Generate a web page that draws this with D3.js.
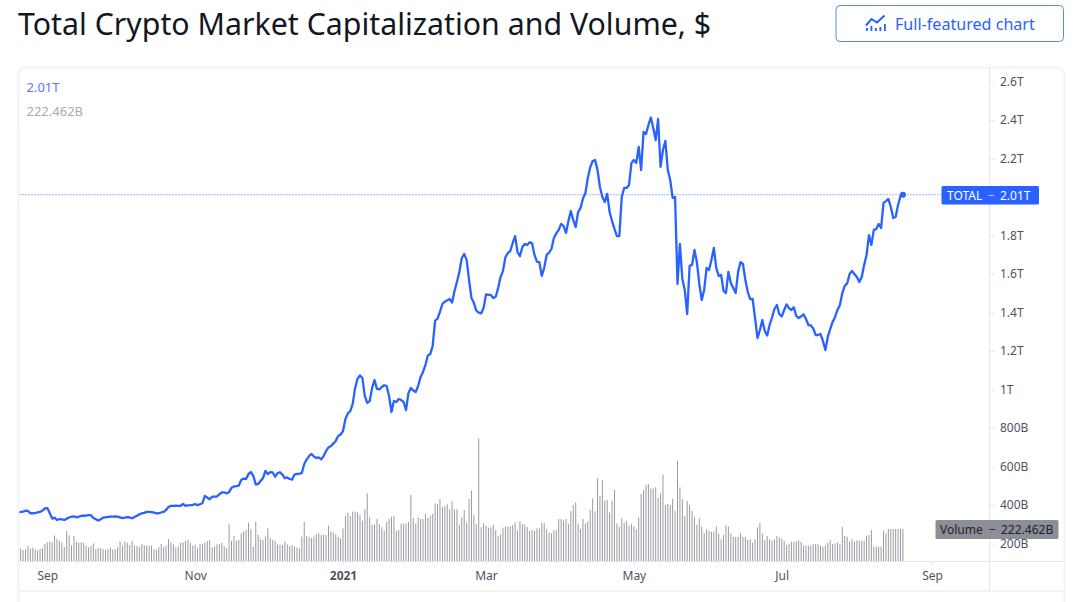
<!DOCTYPE html>
<html><head><meta charset="utf-8">
<script src="https://cdn.jsdelivr.net/npm/d3@7/dist/d3.min.js"></script>
<style>html,body{margin:0;padding:0;background:#fff;overflow:hidden}svg{display:block}text{font-family:"Noto Sans",sans-serif}</style>
</head><body><svg id="c" width="1080" height="602"></svg>
<script>
const startDate = "2020-08-20";
const chartTitle = "Total Crypto Market Capitalization and Volume, $";
const buttonLabel = "Full-featured chart";
const priceTicks = [200,400,600,800,1000,1200,1400,1600,1800,2200,2400,2600];
const timeTicks = [["2020-09-01","Sep"],["2020-11-01","Nov"],["2021-01-01","2021"],["2021-03-01","Mar"],["2021-05-01","May"],["2021-07-01","Jul"],["2021-09-01","Sep"]];
// market cap, billions of USD, one per day
const totalCap = [
359,362,364,368,367,355,355,356,359,362,369,380,382,356,327,332,320,325,323,320,
327,333,337,339,334,337,341,342,343,345,345,330,324,317,323,332,334,336,337,338,
339,338,334,330,332,335,333,329,336,342,350,354,357,362,362,361,359,354,355,359,
362,372,388,393,393,394,393,394,403,394,396,397,399,403,397,402,407,445,437,428,
441,441,442,454,463,464,458,465,487,494,496,499,528,535,533,559,569,549,505,507,
523,538,575,559,569,567,545,564,568,556,537,541,533,530,556,559,561,564,611,634,
652,663,650,642,645,635,652,678,697,704,717,730,756,764,782,845,874,886,923,1006,
1054,1071,1058,964,928,938,1006,1047,1001,999,1011,1020,1016,964,881,938,933,949,943,933,
891,980,1006,993,985,1016,1063,1089,1125,1175,1182,1224,1356,1366,1401,1442,1454,1461,1468,1450,
1510,1556,1608,1681,1702,1671,1567,1473,1447,1408,1397,1393,1421,1492,1489,1489,1473,1480,1525,1582,
1614,1685,1707,1717,1759,1795,1712,1691,1738,1754,1749,1763,1757,1697,1662,1660,1588,1629,1697,1709,
1728,1785,1809,1827,1858,1847,1811,1873,1925,1878,1842,1920,1941,1990,2019,2097,2153,2185,2190,2138,
2050,1998,1972,2014,1920,1873,1832,1795,1795,1998,2045,2045,2060,2175,2190,2175,2258,2138,2336,2325,
2372,2411,2356,2294,2403,2154,2242,2289,2138,2086,1993,1998,1546,1754,1572,1515,1390,1640,1645,1723,
1660,1546,1463,1515,1629,1619,1671,1733,1629,1588,1593,1510,1499,1609,1551,1525,1499,1609,1660,1650,
1567,1504,1468,1468,1369,1265,1307,1359,1302,1278,1333,1372,1416,1437,1390,1377,1411,1440,1421,1411,
1425,1380,1369,1377,1389,1364,1333,1331,1315,1281,1281,1286,1250,1203,1271,1312,1349,1375,1411,1437,
1499,1536,1549,1598,1614,1598,1582,1556,1582,1645,1697,1800,1749,1827,1832,1858,1837,1967,1977,1988,
1946,1889,1894,1956,2003,2010];
// volume, billions of USD, one per day
const volume = [
104,88,76,81,104,88,93,81,74,83,90,118,130,134,130,178,153,139,130,97,
209,178,109,174,132,127,130,127,109,93,104,123,83,90,90,83,79,83,93,79,
81,95,137,107,137,127,111,141,107,104,97,118,109,107,107,107,81,79,95,118,
95,107,153,132,116,95,102,127,130,141,146,127,107,114,90,118,118,130,139,144,
95,102,116,118,127,102,90,255,141,174,141,146,192,204,215,266,220,100,273,181,
153,146,169,227,158,146,139,116,111,111,134,116,104,111,100,93,88,169,273,174,
165,158,169,185,192,181,185,181,246,204,199,185,169,158,227,313,336,313,343,345,
338,320,
280,359,470,304,253,253,292,257,234,211,271,292,308,310,211,215,260,260,260,271,
459,299,260,304,292,292,327,299,313,327,401,396,431,375,382,394,359,415,359,359,
253,304,354,266,431,489,320,257,853,
236,262,246,232,234,253,215,174,185,232,239,241,241,250,269,215,276,257,253,236,
209,215,211,227,225,264,264,222,197,192,215,215,292,292,280,292,260,345,389,408,
260,222,292,260,276,357,436,345,575,452,563,419,424,336,419,494,262,239,297,266,
280,246,257,241,222,304,466,494,528,535,505,505,512,438,470,598,389,396,389,431,
348,697,512,431,313,419,389,348,304,253,297,241,192,220,209,204,204,241,188,
151,181,250,239,192,167,167,167,192,169,167,146,151,127,151,234,266,192,146,174,
151,141,151,174,165,155,141,111,118,132,134,137,144,132,104,109,104,104,118,118,
116,104,100,107,127,146,118,123,127,118,236,174,169,134,151,137,144,141,141,141,
174,181,215,100,100,100,100,209,192,222,222,222,222,222,222,222.462];

const blue = "#2962ff", axisLine = "#e4e6ec", labelCol = "#50535e";
const svg = d3.select("#c");
const day = 864e5, t0 = Date.parse(startDate + "T00:00:00Z");
const dateOf = i => new Date(t0 + i * day);

const x = d3.scaleUtc().domain([new Date("2020-09-01T00:00Z"), new Date("2021-09-01T00:00Z")]).range([47.3, 932]);
const y = d3.scaleLinear().domain([0, 2600]).range([581.6, 81.1]);
const yVol = d3.scaleLinear().domain([0, 222.462]).range([561, 529]);

// title
svg.append("text").attr("x", 18).attr("y", 35).attr("font-size", 30.3).attr("fill", "#131722").text(chartTitle);

// button
const btn = svg.append("g");
btn.append("rect").attr("x", 836).attr("y", 5.5).attr("width", 227.5).attr("height", 36).attr("rx", 4).attr("fill", "#fff").attr("stroke", "#5b84f5").attr("stroke-width", 1);
btn.append("path").attr("d", "M866 25.5 L871.5 19 L877 22.5 L884.5 15.5").attr("fill", "none").attr("stroke", blue).attr("stroke-width", 2);
[[866,3],[870.5,5],[875,3],[879.5,4],[884,7]].forEach(b => btn.append("rect").attr("x", b[0]).attr("y", 31 - b[1]).attr("width", 1.8).attr("height", b[1]).attr("fill", blue));
btn.append("text").attr("x", 895).attr("y", 30).attr("font-size", 16.1).attr("fill", blue).text(buttonLabel);

// card
svg.append("rect").attr("x", 18.5).attr("y", 67.5).attr("width", 1046).attr("height", 560).attr("rx", 7).attr("fill", "#fff").attr("stroke", "#f0f3fa").attr("stroke-width", 2);
svg.append("line").attr("x1", 19).attr("x2", 1064).attr("y1", 591).attr("y2", 591).attr("stroke", "#e6e8ee");
svg.append("line").attr("x1", 989.5).attr("x2", 989.5).attr("y1", 68).attr("y2", 591).attr("stroke", axisLine);

svg.append("defs").append("clipPath").attr("id", "pane").append("rect").attr("x", 19.5).attr("y", 68).attr("width", 970).attr("height", 493);
const pane = svg.append("g").attr("clip-path", "url(#pane)");

// volume
pane.selectAll("rect.v").data(volume).join("rect").attr("class", "v")
  .attr("x", (d, i) => x(dateOf(i)) - 0.5).attr("width", 1)
  .attr("y", d => yVol(d)).attr("height", d => 561 - yVol(d)).attr("fill", "#999ba2");

// dotted last price line
svg.append("line").attr("x1", 19.5).attr("x2", 942).attr("y1", y(2010)).attr("y2", y(2010))
  .attr("stroke", blue).attr("stroke-width", 1).attr("stroke-dasharray", "1 2").attr("opacity", .85);

// market cap line
const line = d3.line().x((d, i) => x(dateOf(i))).y(d => y(d));
pane.append("path").datum(totalCap).attr("d", line).attr("fill", "none").attr("stroke", blue).attr("stroke-width", 2.3).attr("stroke-linejoin", "round");
svg.append("circle").attr("cx", x(dateOf(totalCap.length - 1))).attr("cy", y(2010)).attr("r", 3).attr("fill", blue);

// axes
const fmt = v => v >= 1000 ? (v / 1000) + "T" : v + "B";
const ax = svg.append("g").attr("transform", "translate(989.5,0.5)")
  .call(d3.axisRight(y).tickValues(priceTicks).tickFormat(fmt).tickSize(5).tickPadding(5.5));
ax.select(".domain").remove();
ax.selectAll("line").attr("stroke", axisLine);
ax.selectAll("text").attr("fill", labelCol).attr("font-size", 12).style("font-family", '"Noto Sans",sans-serif');

const timeDates = timeTicks.map(d => new Date(d[0] + "T00:00Z"));
const tx = svg.append("g").attr("transform", "translate(0,561)")
  .call(d3.axisBottom(x).tickValues(timeDates).tickFormat((d, i) => timeTicks[i][1]).tickSize(4).tickPadding(6));
tx.select(".domain").remove();
svg.append("line").attr("x1", 19).attr("x2", 1064).attr("y1", 561.5).attr("y2", 561.5).attr("stroke", axisLine);
tx.selectAll("line").attr("stroke", axisLine);
tx.selectAll("text").attr("fill", labelCol).attr("font-size", 12).style("font-family", '"Noto Sans",sans-serif')
  .attr("font-weight", (d, i) => timeTicks[i][1] === "2021" ? 700 : 400);

// legend
svg.append("text").attr("x", 26.5).attr("y", 92).attr("font-size", 13).attr("fill", "#4f7bf7").text("2.01T");
svg.append("text").attr("x", 26.5).attr("y", 116).attr("font-size", 13).attr("fill", "#a9abb2").text("222.462B");

// price tags
svg.append("rect").attr("x", 941.5).attr("y", 186).attr("width", 97.5).attr("height", 18.5).attr("rx", 1.5).attr("fill", blue);
svg.append("text").attr("x", 947).attr("y", 199.5).attr("font-size", 12).attr("fill", "#fff").text("TOTAL");
svg.append("text").attr("x", 988).attr("y", 199.5).attr("font-size", 12).attr("fill", "#fff").attr("opacity", .7).text("−");
svg.append("text").attr("x", 1000).attr("y", 199.5).attr("font-size", 12).attr("fill", "#fff").text("2.01T");
svg.append("rect").attr("x", 935.5).attr("y", 520).attr("width", 123).attr("height", 19).attr("rx", 1.5).attr("fill", "#8d8f97");
svg.append("text").attr("x", 940).attr("y", 534).attr("font-size", 12).attr("fill", "#1f222b").text("Volume");
svg.append("text").attr("x", 989).attr("y", 534).attr("font-size", 12).attr("fill", "#1f222b").text("−");
svg.append("text").attr("x", 1001).attr("y", 534).attr("font-size", 12).attr("fill", "#1f222b").text("222.462B");
</script></body></html>
